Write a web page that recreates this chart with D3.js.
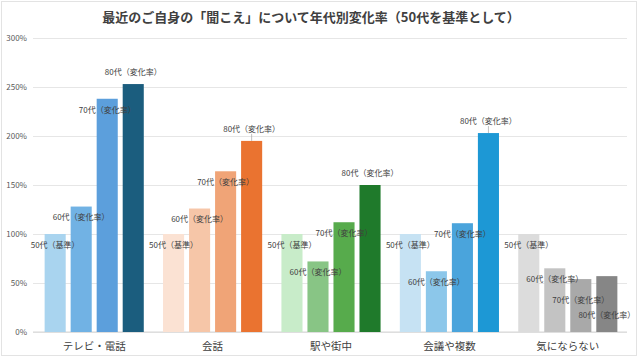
<!DOCTYPE html>
<html>
<head>
<meta charset="utf-8">
<script src="https://cdn.jsdelivr.net/npm/d3@7"></script>
<style>
  body { margin: 0; background: #fff; }
  text { font-family: "Noto Sans CJK JP", "Noto Sans", sans-serif; }
</style>
</head>
<body>
<script>
// data (ratio vs. 50代 = 100%)
const categories = ["テレビ・電話", "会話", "駅や街中", "会議や複数", "気にならない"];
const seriesNames = ["50代（基準）", "60代（変化率）", "70代（変化率）", "80代（変化率）"];
const age50 = [1.00, 1.00, 1.00, 1.00, 1.00];
const age60 = [1.28, 1.26, 0.72, 0.62, 0.65];
const age70 = [2.38, 1.64, 1.12, 1.11, 0.54];
const age80 = [2.53, 1.95, 1.50, 2.03, 0.57];
const yTicks = [0, 0.5, 1, 1.5, 2, 2.5, 3];
const title = "最近のご自身の「聞こえ」について年代別変化率（50代を基準として）";

// each category has its own colour family, light -> dark
const palettes = [
    ["#a9d4ef", "#71b2e4", "#5c9fdc", "#1b5d7e"],
    ["#fbe2d3", "#f6c6a8", "#f0a477", "#ea7330"],
    ["#c8ecc9", "#88c585", "#57ab4c", "#1f7a2b"],
    ["#c6e2f3", "#8cc7ea", "#4aa4dc", "#1d98d5"],
    ["#dcdcdc", "#c3c3c3", "#a9a9a9", "#868686"]
];

const values = [age50, age60, age70, age80];

const width = 640;
const height = 361;
const marginTop = 38;
const marginBottom = 29;
const marginLeft = 35;
const marginRight = 13;

const svg = d3.select("body").append("svg")
    .attr("width", width)
    .attr("height", height);

svg.append("rect")
    .attr("x", 1.5).attr("y", 1.5)
    .attr("width", width - 5).attr("height", height - 7)
    .attr("fill", "#fff")
    .attr("stroke", "#e3e3e3");

const x0 = d3.scaleBand()
    .domain(categories)
    .range([marginLeft, width - marginRight]);

const x1 = d3.scaleBand()
    .domain(d3.range(seriesNames.length))
    .range([0, x0.bandwidth()])
    .paddingInner(0.19)
    .paddingOuter(0.37);

const y = d3.scaleLinear()
    .domain([0, 3])
    .range([height - marginBottom, marginTop]);

// gridlines + tick labels
const yAxis = d3.axisLeft(y)
    .tickValues(yTicks)
    .tickFormat(d3.format(".0%"))
    .tickSize(-(width - marginRight - marginLeft + 2));

svg.append("g")
    .attr("transform", `translate(${marginLeft - 2},0)`)
    .call(yAxis)
    .call(g => g.select(".domain").remove())
    .call(g => g.selectAll("line").attr("stroke", "#e6e6e6"))
    .call(g => g.selectAll("text")
        .attr("x", -6)
        .attr("fill", "#595959")
        .style("font-size", "8px"));

// x baseline
svg.append("line")
    .attr("x1", marginLeft - 2).attr("x2", width - marginRight)
    .attr("y1", y(0)).attr("y2", y(0))
    .attr("stroke", "#d6d6d6");

// rows: one entry per bar
const rows = [];
categories.forEach((c, ci) => {
    values.forEach((vals, si) => {
        rows.push({ cat: c, ci: ci, si: si, v: vals[ci] });
    });
});

svg.append("g")
    .selectAll("rect")
    .data(rows)
    .join("rect")
        .attr("x", d => x0(d.cat) + x1(d.si))
        .attr("y", d => y(d.v))
        .attr("width", x1.bandwidth())
        .attr("height", d => y(0) - y(d.v))
        .attr("fill", d => palettes[d.ci][d.si]);

// label placement: inside below the top, 80代 above the bar,
// the last group is shifted down where the bars crowd together
const labelDy = d => {
    if (d.ci === 4 && d.si === 2) return 21;
    if (d.ci === 4 && d.si === 3) return 39;
    if (d.si === 3) return -12;
    return 11;
};

// short leader lines for labels that sit above the bar
svg.append("g")
    .selectAll("line")
    .data(rows.filter(d => labelDy(d) < 0 && d.ci !== 0 && d.ci !== 2))
    .join("line")
        .attr("x1", d => x0(d.cat) + x1(d.si) + x1.bandwidth() / 2)
        .attr("x2", d => x0(d.cat) + x1(d.si) + x1.bandwidth() / 2)
        .attr("y1", d => y(d.v) - 7)
        .attr("y2", d => y(d.v))
        .attr("stroke", "#a6a6a6")
        .attr("stroke-width", 0.7);

svg.append("g")
    .selectAll("text")
    .data(rows)
    .join("text")
        .attr("x", d => x0(d.cat) + x1(d.si) + x1.bandwidth() / 2)
        .attr("y", d => y(d.v) + labelDy(d))
        .attr("dy", "0.35em")
        .attr("text-anchor", "middle")
        .attr("fill", "#404040")
        .style("font-size", "8px")
        .text(d => seriesNames[d.si]);

// category labels
svg.append("g")
    .selectAll("text")
    .data(categories)
    .join("text")
        .attr("x", d => x0(d) + x0.bandwidth() / 2)
        .attr("y", 346)
        .attr("dy", "0.35em")
        .attr("text-anchor", "middle")
        .attr("fill", "#404040")
        .style("font-size", "10.5px")
        .text(d => d);

svg.append("text")
    .attr("x", 311)
    .attr("y", 17)
    .attr("dy", "0.35em")
    .attr("text-anchor", "middle")
    .attr("fill", "#404040")
    .style("font-size", "13px")
    .style("font-weight", "bold")
    .text(title);
</script>
</body>
</html>
